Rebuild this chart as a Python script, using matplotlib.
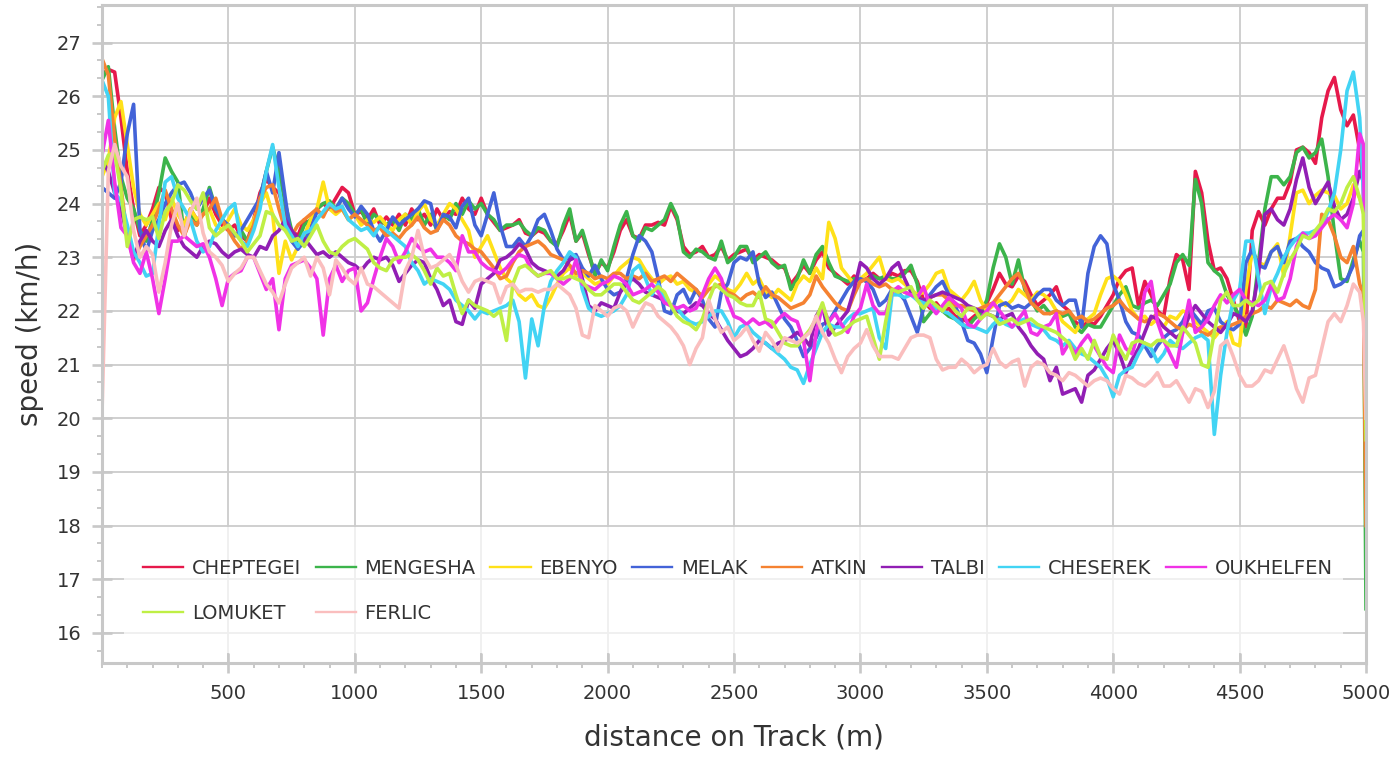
import matplotlib.pyplot as plt
from matplotlib.patches import Rectangle
from matplotlib.ticker import FixedLocator, MultipleLocator, AutoMinorLocator

plt.rcParams['font.family'] = ['DejaVu Sans']

# ----------------------------------------------------------------------
# Data : speed (km/h) every 25 m
# ----------------------------------------------------------------------

distance = list(range(0, 5000, 25)) + [4990, 5000]

cheptegei = [
    26.4, 26.5, 26.45, 25.6, 24.6, 23.9, 23.4, 23.6, 23.9, 24.3, 24.2, 23.7, 23.5, 23.6, 23.9, 23.7, 23.8, 24.1, 23.8, 23.6,
    23.5, 23.6, 23.4, 23.3, 23.7, 24.2, 24.45, 24.3, 24.2, 23.8, 23.5, 23.4, 23.7, 23.6, 23.9, 24.0, 23.9, 24.1, 24.3, 24.2,
    23.8, 23.85, 23.7, 23.9, 23.6, 23.75, 23.6, 23.8, 23.6, 23.9, 23.7, 23.8, 23.6, 23.9, 23.7, 23.85, 23.8, 24.1, 23.9, 23.8,
    24.1, 23.8, 23.65, 23.5, 23.55, 23.6, 23.7, 23.45, 23.4, 23.5, 23.45, 23.3, 23.25, 23.5, 23.8, 23.3, 23.45, 23.05, 22.7, 22.9,
    22.8, 23.1, 23.5, 23.7, 23.4, 23.35, 23.6, 23.6, 23.65, 23.6, 23.95, 23.7, 23.2, 23.05, 23.1, 23.2, 23.0, 23.05, 23.2, 22.95,
    23.05, 23.1, 23.15, 22.95, 23.05, 23.0, 22.95, 22.85, 22.8, 22.5, 22.65, 22.85, 22.7, 22.95, 23.1, 22.8, 22.7, 22.6, 22.5, 22.65,
    22.55, 22.6, 22.7, 22.6, 22.6, 22.7, 22.65, 22.75, 22.75, 22.55, 22.2, 22.05, 22.15, 22.0, 22.05, 21.9, 21.85, 21.8, 21.9, 22.0,
    22.15, 22.4, 22.7, 22.5, 22.45, 22.65, 22.55, 22.3, 22.1, 22.2, 22.3, 22.45, 22.1, 22.0, 21.8, 21.7, 21.8, 21.75, 21.9, 22.1,
    22.3, 22.6, 22.75, 22.8, 22.1, 22.55, 22.3, 22.0, 21.9, 22.6, 23.05, 22.95, 22.4, 24.6, 24.2, 23.3, 22.75, 22.8, 22.6, 22.2,
    21.8, 21.7, 23.5, 23.85, 23.6, 23.9, 24.1, 24.1, 24.4, 25.0, 25.05, 24.95, 24.75, 25.6, 26.1, 26.35, 25.75, 25.45, 25.65, 25.0,
    24.4, 20.5,
]

mengesha = [
    26.3, 26.55, 25.4, 24.5, 24.1, 23.9, 23.5, 23.3, 23.7, 24.2, 24.85, 24.6, 24.4, 23.4, 23.8, 23.6, 23.9, 24.3, 23.9, 23.7,
    23.6, 23.4, 23.5, 23.3, 23.6, 24.1, 24.6, 25.05, 24.6, 24.0, 23.5, 23.3, 23.6, 23.7, 23.9, 24.0, 24.05, 23.9, 24.1, 24.0,
    23.8, 23.9, 23.6, 23.8, 23.7, 23.6, 23.7, 23.5, 23.8, 23.7, 23.9, 23.6, 23.8, 23.5, 23.8, 23.7, 24.0, 23.8, 24.05, 23.9,
    24.0, 23.8, 23.7, 23.5, 23.6, 23.6, 23.65, 23.5, 23.4, 23.55, 23.5, 23.3, 23.2, 23.6, 23.9, 23.3, 23.5, 23.1, 22.65, 22.95,
    22.75, 23.2, 23.6, 23.85, 23.4, 23.3, 23.55, 23.5, 23.6, 23.7, 24.0, 23.75, 23.1, 23.0, 23.15, 23.1, 23.0, 22.95, 23.3, 22.9,
    23.0, 23.2, 23.2, 22.9, 23.0, 23.1, 22.9, 22.8, 22.85, 22.4, 22.6, 22.95, 22.7, 23.05, 23.2, 22.9, 22.65, 22.6, 22.55, 22.6,
    22.6, 22.55, 22.65, 22.6, 22.65, 22.6, 22.6, 22.7, 22.85, 22.5, 21.8, 21.95, 22.1, 22.0, 21.9, 21.85, 21.75, 21.7, 21.85, 21.95,
    22.2, 22.8, 23.25, 23.0, 22.5, 22.95, 22.4, 22.2, 22.0, 22.1, 21.95, 22.0, 21.9, 21.95, 21.7, 21.6, 21.75, 21.7, 21.7, 21.9,
    22.1, 22.3, 22.45, 22.1, 22.05, 22.15, 22.2, 22.1, 22.3, 22.5, 22.9, 23.05, 22.85, 24.45, 24.0, 22.9, 22.75, 22.65, 22.3, 22.1,
    21.9, 21.55, 21.9, 22.9, 23.9, 24.5, 24.5, 24.35, 24.5, 24.95, 25.05, 24.85, 24.95, 25.2, 24.5, 23.45, 22.6, 22.55, 22.95, 23.3,
    23.1, 16.45,
]

ebenyo = [
    24.5, 24.8, 25.6, 25.9, 25.1, 24.3, 23.8, 23.6, 23.8, 24.0, 23.7, 24.1, 23.8, 23.6, 23.9, 23.7, 23.8, 23.9, 23.6, 23.5,
    23.7, 23.9, 23.6, 23.5, 23.7, 24.0, 24.2, 23.8, 22.7, 23.3, 22.95, 23.2, 23.4, 23.7, 23.9, 24.4, 23.9, 23.8, 23.9, 23.7,
    23.8, 23.6, 23.7, 23.65, 23.75, 23.6, 23.5, 23.7, 23.8, 23.6, 23.85, 24.0, 23.7, 23.6, 23.8, 24.0, 23.9, 23.7, 23.5, 23.0,
    23.2, 23.4, 23.1, 22.8, 22.6, 22.5, 22.3, 22.2, 22.3, 22.1, 22.05, 22.25, 22.5, 22.7, 22.8, 22.65, 22.7, 22.6, 22.5, 22.55,
    22.5, 22.65, 22.8, 22.9, 23.0, 22.95, 22.75, 22.6, 22.5, 22.6, 22.65, 22.5, 22.55, 22.4, 22.35, 22.3, 22.5, 22.65, 22.55, 22.4,
    22.35, 22.5, 22.7, 22.5, 22.6, 22.35, 22.25, 22.4, 22.3, 22.2, 22.5, 22.65, 22.55, 22.8, 22.6, 23.65, 23.35, 22.8, 22.65, 22.5,
    22.6, 22.7, 22.85, 23.0, 22.6, 22.55, 22.6, 22.5, 22.4, 22.3, 22.35, 22.5, 22.7, 22.75, 22.4, 22.3, 22.2, 22.35, 22.55, 22.2,
    22.0, 22.1, 22.2, 22.1, 22.2, 22.4, 22.3, 22.2, 22.35, 22.3, 22.2, 22.0, 21.8, 21.7, 21.6, 21.8, 21.85, 21.95, 22.3, 22.6,
    22.65, 22.55, 22.3, 22.0, 21.85, 21.9, 21.75, 21.85, 21.7, 21.9, 21.85, 22.0, 21.95, 21.8, 21.7, 21.6, 21.5, 21.65, 21.8, 21.4,
    21.35, 22.4, 23.1, 22.9, 22.85, 23.1, 23.25, 22.65, 23.4, 24.2, 24.25, 24.0, 24.15, 24.25, 24.2, 24.15, 23.9, 24.0, 24.35, 24.1,
    23.9, 20.4,
]

melak = [
    24.3, 24.2, 24.1, 24.4, 25.3, 25.85, 23.5, 23.1, 23.5, 23.7, 24.0, 24.2, 24.35, 24.4, 24.2, 23.9, 24.1, 24.25, 23.9, 23.7,
    23.6, 23.4, 23.5, 23.7, 23.9, 24.1, 24.6, 24.2, 24.95, 24.1, 23.3, 23.15, 23.3, 23.5, 23.85, 23.8, 23.95, 23.9, 24.1, 23.9,
    23.75, 23.95, 23.8, 23.5, 23.3, 23.5, 23.75, 23.6, 23.7, 23.8, 23.9, 24.05, 24.0, 23.5, 23.8, 23.75, 23.55, 23.95, 24.1, 23.6,
    23.4, 23.8, 24.2, 23.6, 23.2, 23.2, 23.35, 23.2, 23.4, 23.7, 23.8, 23.5, 23.15, 22.95, 23.0, 23.05, 22.8, 22.65, 22.85, 22.6,
    22.4, 22.3, 22.35, 22.6, 23.05, 23.4, 23.3, 23.1, 22.6, 22.0, 21.95, 22.3, 22.4, 22.15, 22.4, 22.2, 21.85, 21.7, 22.35, 22.5,
    22.9, 23.0, 22.95, 23.1, 22.5, 22.25, 22.35, 22.1, 21.85, 21.7, 21.45, 21.15, 21.3, 21.5, 21.75, 21.8, 22.0, 22.2, 22.4, 22.55,
    22.6, 22.55, 22.4, 22.1, 22.2, 22.4, 22.35, 22.2, 21.9, 21.6, 22.05, 22.3, 22.45, 22.55, 22.3, 22.1, 21.8, 21.45, 21.4, 21.2,
    20.85, 21.5, 22.1, 22.15, 22.05, 22.1, 22.05, 22.15, 22.3, 22.4, 22.4, 22.2, 22.1, 22.2, 22.2, 21.7, 22.7, 23.2, 23.4, 23.25,
    22.5, 22.2, 21.8, 21.6, 21.55, 21.35, 21.15, 21.35, 21.5, 21.6, 21.65, 21.8, 22.05, 21.9, 21.75, 22.0, 22.05, 21.8, 21.7, 21.65,
    21.75, 22.9, 23.15, 22.85, 22.8, 23.1, 23.2, 22.9, 23.3, 23.35, 23.2, 23.1, 22.9, 22.8, 22.75, 22.45, 22.5, 22.6, 22.85, 23.4,
    23.5, 20.5,
]

atkin = [
    26.7, 26.4, 25.2, 24.3, 23.4, 22.95, 23.2, 23.4, 23.6, 23.9, 24.25, 23.9, 23.6, 23.4, 23.7, 23.6, 23.8, 23.9, 24.1, 23.7,
    23.5, 23.3, 23.15, 23.3, 23.6, 24.1, 24.3, 24.35, 23.9, 23.5, 23.4, 23.6, 23.7, 23.8, 23.9, 23.75, 24.0, 23.85, 23.9, 23.7,
    23.8, 23.7, 23.6, 23.5, 23.55, 23.4, 23.45, 23.35, 23.5, 23.6, 23.75, 23.55, 23.45, 23.5, 23.7, 23.6, 23.4, 23.3, 23.25, 23.15,
    23.1, 22.95, 22.8, 22.6, 22.65, 22.9, 23.1, 23.2, 23.25, 23.3, 23.2, 23.05, 23.0, 22.95, 22.85, 22.7, 22.75, 22.7, 22.6, 22.65,
    22.6, 22.7, 22.7, 22.6, 22.65, 22.6, 22.7, 22.55, 22.6, 22.65, 22.55, 22.7, 22.6, 22.5, 22.4, 22.25, 22.4, 22.45, 22.5, 22.35,
    22.3, 22.2, 22.3, 22.35, 22.25, 22.45, 22.3, 22.25, 22.15, 22.05, 22.1, 22.15, 22.3, 22.65, 22.45, 22.3, 22.15, 22.05, 22.0, 22.3,
    22.55, 22.6, 22.5, 22.45, 22.5, 22.4, 22.4, 22.35, 22.3, 22.25, 22.2, 22.25, 22.3, 22.3, 22.2, 22.1, 22.1, 22.05, 22.0, 22.05,
    22.1, 22.15, 22.3, 22.45, 22.6, 22.7, 22.45, 22.15, 22.05, 21.95, 21.95, 22.0, 21.95, 22.0, 21.85, 21.9, 21.8, 21.85, 21.95, 22.05,
    22.1, 22.2, 22.05, 21.95, 21.85, 21.8, 21.85, 21.95, 21.9, 21.8, 21.7, 21.65, 21.75, 21.7, 21.6, 21.55, 21.65, 21.7, 21.7, 21.75,
    21.8, 21.9, 21.95, 22.0, 22.1, 22.05, 22.2, 22.15, 22.1, 22.2, 22.1, 22.05, 22.4, 23.8, 23.7, 23.4, 23.0, 22.9, 23.2, 22.5,
    22.3, 18.0,
]

talbi = [
    24.8, 24.6, 24.2, 23.9, 23.4, 23.0, 23.3, 23.5, 23.3, 23.2, 23.5, 23.7, 23.4, 23.2, 23.1, 23.0, 23.2, 23.3, 23.25, 23.1,
    23.0, 23.1, 23.15, 23.05, 23.0, 23.2, 23.15, 23.4, 23.5, 23.7, 23.5, 23.35, 23.35, 23.2, 23.05, 23.1, 23.0, 23.1, 23.0, 22.9,
    22.85, 22.75, 22.9, 23.0, 22.95, 23.0, 22.85, 22.55, 22.7, 22.85, 22.95, 22.9, 22.6, 22.4, 22.1, 22.2, 21.8, 21.75, 22.2, 22.05,
    22.5, 22.6, 22.7, 22.95, 23.0, 23.1, 23.25, 23.15, 22.9, 22.8, 22.75, 22.7, 22.65, 22.75, 22.95, 23.0, 22.6, 22.1, 22.0, 22.15,
    22.1, 22.05, 22.35, 22.5, 22.6, 22.5, 22.35, 22.3, 22.25, 22.2, 22.1, 22.0, 21.95, 22.05, 22.15, 22.1, 21.95, 21.85, 21.65, 21.45,
    21.3, 21.15, 21.2, 21.3, 21.45, 21.4, 21.3, 21.4, 21.45, 21.5, 21.6, 21.5, 21.35, 21.9, 22.1, 21.55, 21.7, 21.85, 22.0, 22.4,
    22.9, 22.8, 22.6, 22.5, 22.6, 22.8, 22.9, 22.6, 22.35, 22.25, 22.2, 22.25, 22.3, 22.35, 22.3, 22.25, 22.2, 22.1, 22.05, 22.0,
    21.95, 21.9, 21.85, 21.9, 21.95, 21.7, 21.55, 21.35, 21.2, 21.1, 20.7, 20.95, 20.45, 20.5, 20.55, 20.3, 20.8, 20.9, 21.1, 21.3,
    21.45, 21.2, 20.85, 21.1, 21.3, 21.6, 21.9, 21.85, 21.7, 21.6, 21.5, 21.6, 21.9, 22.1, 21.95, 21.8, 21.7, 21.6, 21.75, 21.95,
    21.9, 21.8, 22.0, 22.7, 23.8, 23.9, 23.7, 23.6, 23.9, 24.45, 24.85, 24.3, 24.0, 24.2, 24.4, 23.95, 23.7, 23.8, 24.1, 24.6,
    24.4, 20.6,
]

cheserek = [
    26.3, 26.0, 24.2, 24.05, 23.6, 23.1, 22.9, 22.65, 22.7, 23.6, 24.4, 24.5, 24.1, 23.9, 23.7, 23.3, 23.1, 23.2, 23.5, 23.7,
    23.9, 24.0, 23.3, 23.2, 23.5, 23.9, 24.6, 25.1, 24.3, 23.6, 23.4, 23.2, 23.45, 23.5, 23.7, 23.85, 24.0, 23.9, 23.95, 23.7,
    23.6, 23.5, 23.55, 23.4, 23.6, 23.5, 23.4, 23.3, 23.2, 22.9, 22.75, 22.5, 22.6, 22.55, 22.5, 22.4, 22.2, 22.1, 22.0, 21.85,
    22.0, 21.95, 22.0, 22.05, 22.1, 22.2, 21.8, 20.75, 21.85, 21.35, 22.1, 22.55, 22.75, 22.9, 23.1, 23.0, 22.4, 22.05, 21.95, 21.9,
    21.95, 22.0, 22.1, 22.3, 22.75, 22.85, 22.6, 22.3, 22.5, 22.2, 22.1, 22.05, 21.9, 21.8, 21.75, 21.8, 21.9, 22.0, 22.0, 21.8,
    21.5, 21.7, 21.75, 21.6, 21.5, 21.4, 21.3, 21.2, 21.1, 20.95, 20.9, 20.65, 21.0, 21.3, 21.6, 21.75, 21.7, 21.7, 21.85, 21.95,
    21.95, 22.0, 22.05, 21.5, 21.3, 22.3, 22.3, 22.25, 22.3, 22.2, 22.15, 22.1, 22.05, 22.0, 21.95, 21.85, 21.75, 21.7, 21.7, 21.65,
    21.6, 21.75, 21.85, 21.75, 21.7, 21.8, 21.85, 21.75, 21.7, 21.65, 21.5, 21.45, 21.35, 21.45, 21.3, 21.2, 21.15, 21.05, 20.95, 20.75,
    20.4, 20.8, 20.9, 20.95, 21.2, 21.4, 21.3, 21.05, 21.2, 21.45, 21.35, 21.3, 21.4, 21.5, 21.55, 21.45, 19.7, 20.8, 21.6, 22.2,
    22.4, 23.3, 23.3, 22.6, 21.95, 22.45, 22.7, 23.0, 23.2, 23.35, 23.45, 23.45, 23.5, 23.6, 23.85, 24.2, 25.0, 26.1, 26.45, 25.6,
    24.2, 20.2,
]

oukhelfen = [
    24.9, 25.55, 24.4, 23.55, 23.4, 22.9, 22.7, 23.1, 22.6, 21.95, 22.6, 23.3, 23.3, 23.4, 23.3, 23.2, 23.25, 23.0, 22.6, 22.1,
    22.6, 22.7, 22.75, 23.0, 23.0, 22.7, 22.4, 22.6, 21.65, 22.6, 22.85, 22.9, 22.95, 22.8, 22.6, 21.55, 22.6, 22.85, 22.55, 22.75,
    22.8, 22.0, 22.15, 22.6, 23.0, 23.35, 23.2, 22.9, 23.1, 23.35, 23.2, 23.1, 23.15, 23.0, 23.0, 22.9, 22.75, 23.4, 23.1, 23.1,
    22.9, 22.8, 22.75, 22.7, 22.8, 22.95, 23.05, 23.0, 22.75, 22.65, 22.7, 22.7, 22.6, 22.5, 22.6, 22.95, 22.5, 22.45, 22.4, 22.5,
    22.55, 22.65, 22.6, 22.5, 22.3, 22.35, 22.4, 22.5, 22.35, 22.15, 22.1, 22.05, 22.1, 22.0, 22.05, 22.3, 22.6, 22.8, 22.6, 22.2,
    21.9, 21.85, 21.75, 21.85, 21.75, 21.8, 21.7, 21.85, 21.95, 21.85, 21.8, 21.45, 20.7, 21.6, 22.1, 21.8, 21.95, 21.75, 21.6, 21.9,
    22.05, 22.5, 22.1, 21.95, 21.95, 22.35, 22.45, 22.35, 22.3, 22.25, 22.45, 22.1, 21.95, 22.1, 22.25, 22.15, 22.05, 21.75, 21.7, 21.85,
    22.0, 22.15, 22.0, 21.85, 21.7, 21.85, 22.0, 21.6, 21.55, 21.7, 21.75, 21.95, 21.2, 21.4, 21.2, 21.4, 21.55, 21.35, 21.15, 20.95,
    20.85, 21.55, 21.3, 21.2, 21.6, 22.35, 22.55, 21.8, 21.45, 21.2, 20.95, 21.6, 22.2, 21.6, 21.7, 21.85, 22.1, 22.3, 22.15, 22.3,
    22.4, 22.2, 22.15, 22.1, 22.2, 22.5, 22.2, 22.25, 22.6, 23.2, 23.45, 23.35, 23.4, 23.55, 23.7, 23.8, 23.7, 23.55, 24.0, 25.3,
    25.1, 20.9,
]

lomuket = [
    24.6, 24.9, 24.95, 24.25, 23.2, 23.7, 23.75, 23.7, 23.75, 23.35, 23.85, 24.0, 24.35, 24.25, 24.05, 23.9, 24.2, 23.55, 23.4, 23.5,
    23.6, 23.45, 23.3, 23.1, 23.25, 23.4, 23.85, 23.8, 23.6, 23.5, 23.3, 23.35, 23.2, 23.4, 23.6, 23.3, 23.1, 23.05, 23.2, 23.3,
    23.35, 23.25, 23.15, 22.9, 22.8, 22.75, 22.95, 23.0, 23.0, 23.05, 22.95, 22.75, 22.5, 22.8, 22.65, 22.7, 22.3, 21.95, 22.2, 22.1,
    22.05, 22.0, 21.9, 22.0, 21.45, 22.5, 22.8, 22.85, 22.75, 22.65, 22.7, 22.75, 22.6, 22.6, 22.65, 22.6, 22.55, 22.4, 22.3, 22.3,
    22.4, 22.5, 22.5, 22.35, 22.2, 22.15, 22.25, 22.35, 22.45, 22.35, 22.1, 21.9, 21.8, 21.75, 21.65, 21.85, 22.2, 22.5, 22.4, 22.3,
    22.25, 22.15, 22.1, 22.1, 22.35, 21.85, 21.8, 21.6, 21.4, 21.35, 21.35, 21.5, 21.65, 21.85, 22.15, 21.75, 21.55, 21.6, 21.7, 21.8,
    21.85, 21.9, 21.5, 21.1, 21.8, 22.4, 22.35, 22.4, 22.45, 22.2, 22.05, 22.2, 22.1, 22.0, 22.15, 22.0, 21.9, 22.05, 22.05, 21.85,
    21.95, 21.9, 21.75, 21.8, 21.85, 21.75, 21.8, 21.85, 21.75, 21.7, 21.65, 21.6, 21.5, 21.4, 21.1, 21.3, 21.1, 21.45, 21.15, 21.1,
    21.55, 21.3, 21.1, 21.4, 21.45, 21.4, 21.35, 21.45, 21.45, 21.35, 21.35, 21.7, 21.55, 21.4, 21.0, 20.95, 21.6, 22.2, 22.35, 22.1,
    22.1, 22.2, 22.1, 22.2, 22.5, 22.55, 22.35, 22.7, 22.95, 23.15, 23.4, 23.35, 23.5, 23.65, 23.9, 23.85, 24.0, 24.3, 24.5, 24.1,
    23.8, 19.6,
]

ferlic = [
    20.1, 24.6, 25.1, 24.7, 24.5, 23.5, 23.0, 23.2, 23.05, 22.35, 22.9, 23.6, 24.0, 23.4, 23.85, 24.1, 23.45, 23.1, 23.0, 22.85,
    22.55, 22.7, 22.8, 23.0, 23.0, 22.75, 22.5, 22.35, 22.15, 22.5, 22.8, 22.9, 23.0, 22.65, 23.0, 22.8, 22.3, 22.95, 22.8, 22.6,
    22.5, 22.8, 22.5, 22.45, 22.35, 22.25, 22.15, 22.05, 22.75, 23.0, 23.5, 23.0, 22.8, 22.85, 22.95, 23.05, 22.85, 22.55, 22.35, 22.55,
    22.6, 22.55, 22.5, 22.15, 22.45, 22.5, 22.35, 22.4, 22.4, 22.35, 22.4, 22.4, 22.5, 22.4, 22.3, 22.05, 21.55, 21.5, 22.1, 22.0,
    21.9, 22.05, 22.1, 22.0, 21.7, 21.95, 22.15, 22.1, 21.9, 21.8, 21.7, 21.55, 21.35, 21.0, 21.3, 21.5, 22.2, 21.85, 21.6, 21.7,
    21.45, 21.55, 21.7, 21.45, 21.25, 21.6, 21.45, 21.25, 21.5, 21.45, 21.4, 21.5, 21.6, 21.9, 21.6, 21.4, 21.1, 20.85, 21.15, 21.3,
    21.4, 21.65, 21.35, 21.15, 21.15, 21.15, 21.1, 21.3, 21.5, 21.55, 21.55, 21.5, 21.1, 20.9, 20.95, 20.95, 21.1, 21.0, 20.85, 20.95,
    21.0, 21.3, 21.05, 20.95, 21.05, 21.1, 20.6, 20.95, 21.05, 21.0, 20.85, 20.8, 20.7, 20.85, 20.8, 20.7, 20.6, 20.7, 20.75, 20.7,
    20.55, 20.45, 20.8, 20.75, 20.65, 20.6, 20.7, 20.85, 20.6, 20.6, 20.7, 20.5, 20.3, 20.55, 20.5, 20.2, 20.5, 21.35, 21.45, 21.15,
    20.8, 20.6, 20.6, 20.7, 20.9, 20.85, 21.1, 21.35, 21.0, 20.55, 20.3, 20.75, 20.8, 21.3, 21.8, 21.95, 21.8, 22.1, 22.5, 22.35,
    21.8, 20.0,
]

runners = ["CHEPTEGEI", "MENGESHA", "EBENYO", "MELAK", "ATKIN",
           "TALBI", "CHESEREK", "OUKHELFEN", "LOMUKET", "FERLIC"]
speeds = [cheptegei, mengesha, ebenyo, melak, atkin,
          talbi, cheserek, oukhelfen, lomuket, ferlic]
colours = ["#e6194b", "#3cb44b", "#ffe119", "#4363d8", "#f58231",
           "#911eb4", "#42d4f4", "#f032e6", "#bfef45", "#fabebe"]

# ----------------------------------------------------------------------
# Figure
# ----------------------------------------------------------------------

fig = plt.figure(figsize=(13.92, 7.6), dpi=100)
ax = fig.add_axes([102 / 1392, 1 - 663 / 760, 1264 / 1392, 658 / 760])

for name, values, colour in zip(runners, speeds, colours):
    ax.plot(distance, values, color=colour, lw=2.6, label=name)

ax.set_xlim(0, 5000)
ax.set_ylim(15.44, 27.7)

ax.xaxis.set_major_locator(FixedLocator(list(range(500, 5001, 500))))
ax.xaxis.set_minor_locator(MultipleLocator(100))
ax.yaxis.set_major_locator(FixedLocator(list(range(16, 28))))
ax.yaxis.set_minor_locator(AutoMinorLocator(3))

grey = "#c8c8c8"
for spine in ax.spines.values():
    spine.set_color(grey)
    spine.set_linewidth(2.2)
ax.grid(True, which="major", color="#cccccc", lw=1.3)

ax.tick_params(which="major", direction="inout", length=13.7, width=1.9,
               color=grey, labelsize=14, labelcolor="#333333", pad=8)
ax.tick_params(which="minor", direction="out", length=3.6, width=1.4, color=grey)

ax.set_xlabel("distance on Track (m)", fontsize=20, color="#333333", labelpad=15)
ax.set_ylabel("speed (km/h)", fontsize=20, color="#333333", labelpad=9)

# translucent band behind the legend
ax.add_patch(Rectangle((0.0174, 0.0152), 0.9644, 0.1915, transform=ax.transAxes,
                       facecolor="white", alpha=0.7, edgecolor="none", zorder=3))

# matplotlib fills legend columns first, so reorder to read row by row
order = [0, 8, 1, 9, 2, 3, 4, 5, 6, 7]
handles, labels = ax.get_legend_handles_labels()
leg = ax.legend([handles[i] for i in order], [labels[i] for i in order],
                ncol=8, loc="upper left", bbox_to_anchor=(0.0327, 0.158),
                frameon=False, fontsize=14, handlelength=2.06, handletextpad=0.43,
                columnspacing=0.77, labelspacing=1.31, borderpad=0, borderaxespad=0)
for text in leg.get_texts():
    text.set_color("#333333")
for line in leg.get_lines():
    line.set_linewidth(1.7)

fig.savefig("out.png", dpi=100)
